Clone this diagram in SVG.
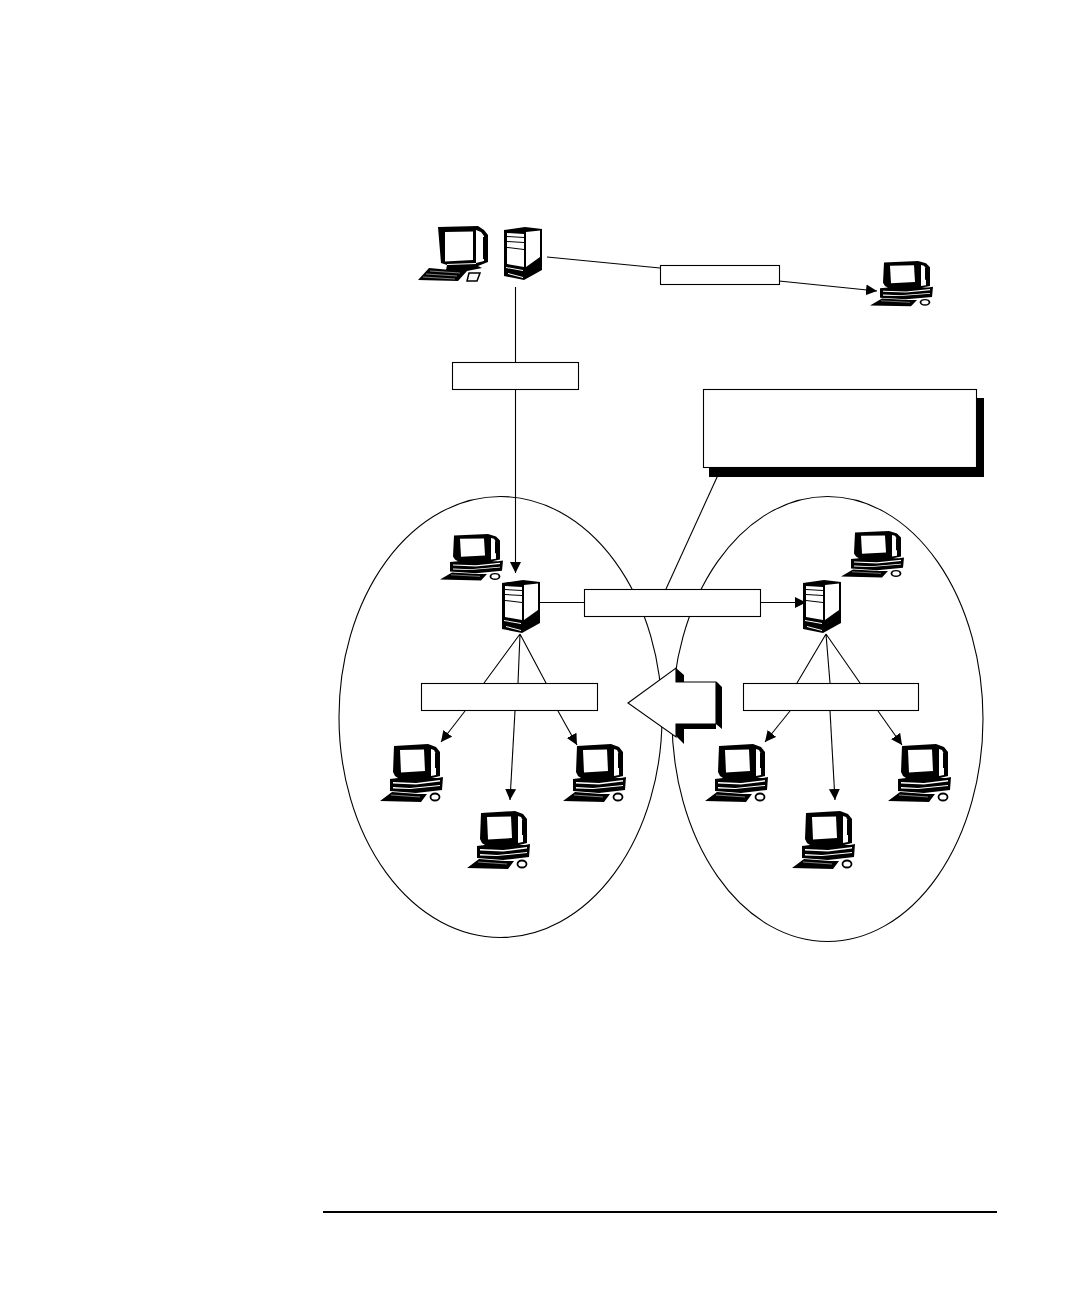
<svg xmlns="http://www.w3.org/2000/svg" width="1080" height="1296" viewBox="0 0 1080 1296">
<style>
.l{fill:none;stroke:#000;stroke-width:1.100}
.b{fill:#fff;stroke:#000;stroke-width:1.100}
.k{fill:#000;stroke:none}
.w{fill:#fff;stroke:none}
</style>
<defs>
<marker id="a" markerUnits="userSpaceOnUse" markerWidth="12" markerHeight="12" refX="11" refY="6" orient="auto"><path d="M0 0.500L11 6L0 11.500Z" fill="#000"/></marker>
<symbol id="pc" overflow="visible">
<path class="k" d="M14 2L48 0L56 3L60 8V32L52 34H58L63 33L62 46L36 49L10 47V35L18 34L15 32L13 28Z"/>
<path class="w" d="M20 6L44 5.500L45 27L21 28.500Z"/>
<path class="w" d="M51 5L54 6L56 10V31L51 32Z"/>
<path class="k" d="M55 9H57V24H55Z"/>
<path class="w" d="M13 38L36 39L60 36V37.500L36 40.500L13 39.500Z"/>
<path class="w" d="M13 43L30 44L60 41V42L30 45L13 44.500Z"/>
<path class="k" d="M12 48L38 50L47 50L41 58L0 57Z"/>
<path d="M11 51L40 53" stroke="#fff" stroke-width=".5" fill="none"/>
<ellipse cx="55" cy="53" rx="4.500" ry="3.500" fill="#fff" stroke="#000" stroke-width="1.800"/>
</symbol>
<symbol id="tower" overflow="visible">
<path class="k" d="M-1 4L20 1L37 3V44L19 54L-1 50Z"/>
<path class="w" d="M2 7L19 8V41L2 38Z"/>
<path class="k" d="M2 10L19 11V12L2 11ZM2 15L19 16V17L2 16ZM2 21L19 23V24L2 22Z"/>
<path class="w" d="M21 6L35 4.500V31L21 41Z"/>
<path class="w" d="M1 41L18 44V45L1 42ZM3 47L18 51V52L3 48Z"/>
</symbol>
</defs>
<g id="connectors">
<path class="l" d="M547 257L660 268"/>
<path class="l" d="M779 281L877 291" marker-end="url(#a)"/>
<path class="l" d="M515.500 287V362"/>
<path class="l" d="M515.500 390V573" marker-end="url(#a)"/>
<path class="l" d="M540 602.500H584"/>
<path class="l" d="M761 602.500H806" marker-end="url(#a)"/>
<path class="l" d="M718 475L666 589"/>
<path class="l" d="M520 634L484 683M520 634L546 683M520 634L518 683"/>
<path class="l" d="M465 711L441 742" marker-end="url(#a)"/>
<path class="l" d="M515 711L510 800" marker-end="url(#a)"/>
<path class="l" d="M558 711L577 745" marker-end="url(#a)"/>
<path class="l" d="M826 634L797 683M826 634L860 683M826 634L830 683"/>
<path class="l" d="M790 711L765 742" marker-end="url(#a)"/>
<path class="l" d="M830 711L835 800" marker-end="url(#a)"/>
<path class="l" d="M878 711L902 745" marker-end="url(#a)"/>
</g>
<g id="group-left"><ellipse class="l" cx="500.500" cy="717" rx="161.500" ry="220.500"/></g>
<g id="group-right"><ellipse class="l" cx="827.500" cy="719" rx="155.500" ry="222.500"/></g>
<g id="label-top"><rect class="b" x="660.500" y="265.500" width="119" height="19"/></g>
<g id="label-down"><rect class="b" x="452.500" y="362.500" width="126" height="27"/></g>
<g id="callout">
<rect class="k" x="709" y="398" width="275" height="79"/>
<rect class="b" x="703.500" y="389.500" width="273" height="78"/>
</g>
<g id="label-mid"><rect class="b" x="584.500" y="589.500" width="176" height="27"/></g>
<g id="label-left"><rect class="b" x="421.500" y="683.500" width="176" height="27"/></g>
<g id="label-right"><rect class="b" x="743.500" y="683.500" width="175" height="27"/></g>
<g id="arrow">
<path class="k" d="M676 668L684 675V682H717L722 687V729L716 724V729H684V744L676 736Z"/>
<path d="M628 703L676 668V682H716V724H676V737Z" fill="#fff" stroke="#000" stroke-width="1.100"/>
</g>
<g id="admin-monitor">
<path class="k" d="M438 227L478 226L484 230L488 235V262L478 266L482 268L462 272L446 270L447 265L441 263Z"/>
<path class="w" d="M445 232L473 231.500V260L445 261.500Z"/>
<path class="w" d="M476 230L481 232L484 236V261L476 263Z"/>
<path class="k" d="M483 237H486V259H483Z"/>
<path class="w" d="M447 264L476 263V264L447 265Z"/>
<path class="k" d="M429 268L462 271L467 271L458 281L418 280Z"/>
<path d="M430 271L460 273M426 274L457 276M423 277L455 279" stroke="#fff" stroke-width=".5" fill="none"/>
<path d="M469 273H480L477 281H467Z" fill="#fff" stroke="#000" stroke-width="1.500"/>
</g>
<g id="admin-tower"><use href="#tower" x="505" y="226"/></g>
<g id="pc-top"><use href="#pc" transform="translate(870 261) scale(1 .78)"/></g>
<g id="pc-l-mgr"><use href="#pc" transform="translate(440 534) scale(1 .8)"/></g>
<g id="pc-r-mgr"><use href="#pc" transform="translate(841 531) scale(1 .8)"/></g>
<g id="tower-l"><use href="#tower" x="503" y="579"/></g>
<g id="tower-r"><use href="#tower" x="804" y="579"/></g>
<g id="pc-l1"><use href="#pc" x="380" y="744"/></g>
<g id="pc-l2"><use href="#pc" x="467" y="811"/></g>
<g id="pc-l3"><use href="#pc" x="563" y="744"/></g>
<g id="pc-r1"><use href="#pc" x="705" y="744"/></g>
<g id="pc-r2"><use href="#pc" x="792" y="811"/></g>
<g id="pc-r3"><use href="#pc" x="888" y="744"/></g>
<path id="footer-rule" d="M323 1212H997" stroke="#000" stroke-width="2" fill="none"/>
</svg>
